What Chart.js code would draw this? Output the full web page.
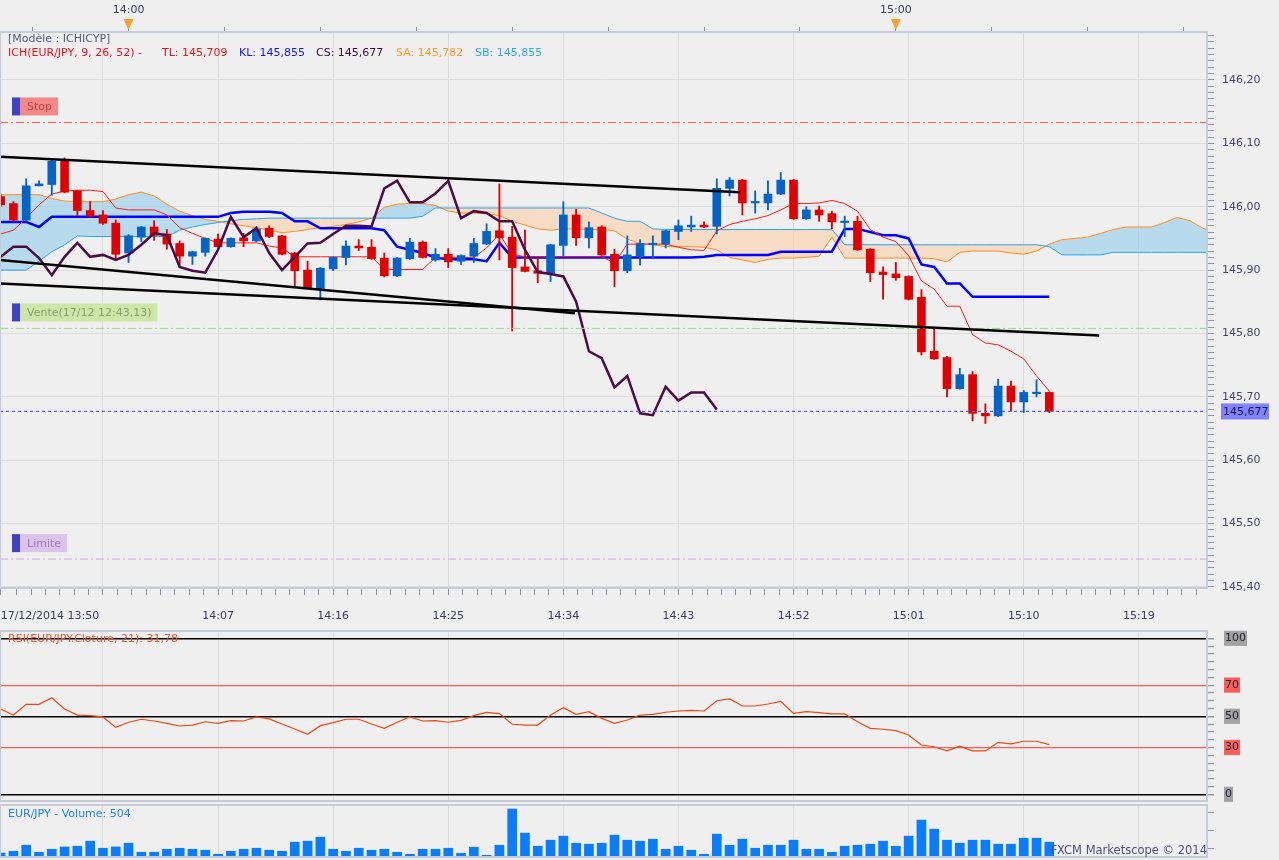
<!DOCTYPE html>
<html>
<head>
<meta charset="utf-8">
<title>EUR/JPY - Ichimoku - FXCM Marketscope</title>
<script src="https://cdn.jsdelivr.net/npm/chart.js"></script>
<style>
  body { margin: 0; background: #efefef; width: 1279px; height: 860px; overflow: hidden; font-family: 'DejaVu Sans', sans-serif; }
  canvas { position: absolute; left: 0; z-index: 0; }
  .txt { position: absolute; font-size: 11px; line-height: 13px; white-space: pre; z-index: 2; }
</style>
</head>
<body>
<canvas id="price" width="1279" height="625" style="top:0"></canvas>
<canvas id="rsi" width="1279" height="178" style="top:625px"></canvas>
<canvas id="vol" width="1279" height="57" style="top:803px"></canvas>

<div class="txt" style="left:8px;top:32px;color:#58587a">[Modèle : ICHICYP]</div>
<div class="txt" style="left:8px;top:46px;color:#e8141e">ICH(EUR/JPY, 9, 26, 52) -</div>
<div class="txt" style="left:162px;top:46px;color:#e8141e">TL: 145,709</div>
<div class="txt" style="left:239px;top:46px;color:#1414f0">KL: 145,855</div>
<div class="txt" style="left:316px;top:46px;color:#3a0c34">CS: 145,677</div>
<div class="txt" style="left:396px;top:46px;color:#ff9a30">SA: 145,782</div>
<div class="txt" style="left:475px;top:46px;color:#30a6f0">SB: 145,855</div>
<div class="txt" style="left:8px;top:632px;color:#e4562a">RSI(EUR/JPY.Cloture, 21): 31,78</div>
<div class="txt" style="left:8px;top:807px;color:#2184f0">EUR/JPY - Volume: 504</div>
<div class="txt" style="right:72px;top:844px;color:#50507a;font-size:11.5px">FXCM Marketscope © 2014</div>

<script>
// one-minute candles, EUR/JPY, 17/12/2014
const sessionDate = '17/12/2014';
const times = [
  '13:50','13:51','13:52','13:53','13:54','13:55','13:56','13:57','13:58','13:59',
  '14:00','14:01','14:02','14:03','14:04','14:05','14:06','14:07','14:08','14:09',
  '14:10','14:11','14:12','14:13','14:14','14:15','14:16','14:17','14:18','14:19',
  '14:20','14:21','14:22','14:23','14:24','14:25','14:26','14:27','14:28','14:29',
  '14:30','14:31','14:32','14:33','14:34','14:35','14:36','14:37','14:38','14:39',
  '14:40','14:41','14:42','14:43','14:44','14:45','14:46','14:47','14:48','14:49',
  '14:50','14:51','14:52','14:53','14:54','14:55','14:56','14:57','14:58','14:59',
  '15:00','15:01','15:02','15:03','15:04','15:05','15:06','15:07','15:08','15:09',
  '15:10','15:11','15:12','15:13','15:14','15:15','15:16','15:17','15:18','15:19',
  '15:20','15:21','15:22','15:23','15:24','15:25'
];

const open = [
  146.016,146.005,145.979,146.033,146.035,146.072,146.025,145.994,145.987,145.974,
  145.927,145.952,145.968,145.957,145.942,145.922,145.928,145.949,145.937,145.951,
  145.946,145.966,145.954,145.927,145.900,145.871,145.902,145.920,145.938,145.936,
  145.919,145.891,145.918,145.944,145.916,145.925,145.914,145.922,145.941,145.962,
  145.952,145.905,145.899,145.895,145.939,145.987,145.951,145.968,145.925,145.899,
  145.922,145.940,145.941,145.961,145.968,145.971,145.969,146.029,146.042,146.006,
  146.006,146.020,146.042,145.981,145.995,145.989,145.975,145.977,145.933,145.897,
  145.894,145.890,145.857,145.772,145.762,145.713,145.735,145.674,145.670,145.717,
  145.692,145.705,145.707
];
const high = [
  146.020,146.008,146.044,146.041,146.074,146.077,146.026,146.008,145.994,145.979,
  145.956,145.969,145.978,145.964,145.946,145.930,145.951,145.957,145.951,145.958,
  145.969,145.970,145.955,145.928,145.914,145.904,145.921,145.946,145.948,145.948,
  145.927,145.920,145.950,145.946,145.934,145.934,145.924,145.950,145.973,146.036,
  145.969,145.963,145.919,145.941,146.008,145.996,145.976,145.970,145.933,145.954,
  145.948,145.954,145.963,145.979,145.985,145.976,146.044,146.046,146.043,146.025,
  146.041,146.054,146.043,146.000,146.001,145.993,145.985,145.985,145.934,145.905,
  145.912,145.891,145.869,145.809,145.764,145.745,145.740,145.689,145.728,145.725,
  145.710,145.727,145.708
];
const low = [
  146.000,145.977,145.977,146.033,146.018,146.022,145.986,145.984,145.972,145.917,
  145.912,145.945,145.947,145.933,145.908,145.909,145.922,145.936,145.936,145.937,
  145.945,145.951,145.924,145.874,145.871,145.853,145.899,145.908,145.931,145.917,
  145.889,145.890,145.917,145.919,145.914,145.904,145.909,145.912,145.940,145.916,
  145.804,145.897,145.880,145.882,145.922,145.939,145.935,145.923,145.874,145.896,
  145.908,145.920,145.935,145.948,145.961,145.967,145.957,146.017,145.987,145.990,
  145.995,146.019,145.980,145.980,145.977,145.965,145.953,145.931,145.882,145.854,
  145.884,145.853,145.766,145.759,145.700,145.712,145.662,145.658,145.669,145.677,
  145.675,145.700,145.675
];
const close = [
  146.003,145.979,146.033,146.036,146.072,146.023,145.994,145.985,145.974,145.925,
  145.954,145.968,145.955,145.941,145.922,145.929,145.950,145.937,145.950,145.946,
  145.965,145.953,145.925,145.899,145.872,145.903,145.920,145.938,145.935,145.918,
  145.891,145.919,145.944,145.920,145.925,145.913,145.923,145.942,145.961,145.951,
  145.904,145.898,145.895,145.940,145.987,145.951,145.967,145.924,145.899,145.924,
  145.942,145.942,145.962,145.970,145.971,145.968,146.029,146.042,146.006,146.008,
  146.020,146.042,145.981,145.995,145.987,145.976,145.976,145.932,145.896,145.893,
  145.888,145.854,145.771,145.760,145.713,145.735,145.674,145.670,145.717,145.692,
  145.707,145.707,145.677
];

// Ichimoku lines
const tenkan = [
  145.957,145.963,145.982,146.003,146.020,146.025,146.026,146.026,146.024,145.998,
  145.995,145.995,145.995,145.987,145.967,145.958,145.950,145.943,145.943,145.943,
  145.943,145.938,145.935,145.921,145.921,145.921,145.921,145.921,145.921,145.921,
  145.901,145.901,145.901,145.901,145.920,145.920,145.920,145.920,145.935,145.957,
  145.925,145.921,145.921,145.921,145.921,145.921,145.921,145.921,145.911,145.941,
  145.941,145.941,145.941,145.936,145.932,145.931,145.962,145.972,145.977,145.981,
  145.986,145.995,146.005,146.005,146.006,146.010,146.005,145.993,145.964,145.952,
  145.945,145.923,145.883,145.870,145.843,145.843,145.798,145.785,145.782,145.772,
  145.760,145.733,145.709
];
const kijun = [
  145.976,145.976,145.976,145.968,145.984,145.984,145.984,145.984,145.984,145.984,
  145.984,145.984,145.984,145.984,145.984,145.984,145.984,145.984,145.990,145.992,
  145.992,145.992,145.990,145.977,145.977,145.966,145.966,145.966,145.966,145.966,
  145.963,145.937,145.932,145.927,145.920,145.917,145.917,145.917,145.914,145.943,
  145.920,145.920,145.920,145.920,145.920,145.920,145.920,145.920,145.920,145.920,
  145.920,145.920,145.920,145.920,145.920,145.921,145.924,145.924,145.924,145.924,
  145.924,145.929,145.929,145.929,145.929,145.929,145.965,145.965,145.960,145.955,
  145.955,145.950,145.909,145.905,145.879,145.879,145.858,145.858,145.858,145.858,
  145.858,145.858,145.858
];
const chikou = [
  145.921,145.937,145.937,145.919,145.892,145.921,145.943,145.921,145.924,145.916,
  145.924,145.940,145.958,145.955,145.905,145.899,145.896,145.932,145.984,145.952,
  145.966,145.927,145.900,145.921,145.942,145.943,145.957,145.970,145.970,145.969,
  146.029,146.041,146.007,146.007,146.021,146.041,145.982,145.993,145.990,145.977,
  145.977,145.932,145.897,145.894,145.890,145.850,145.772,145.761,145.715,145.733,
  145.674,145.671,145.716,145.694,145.707,145.707,145.680
];
const senkouA = [
  146.019,146.019,146.019,146.019,146.013,146.009,146.008,146.008,146.008,146.012,
  146.019,146.023,146.017,146.004,145.993,145.986,145.980,145.977,145.973,145.970,
  145.967,145.963,145.959,145.961,145.964,145.967,145.969,145.972,145.976,145.982,
  145.999,146.004,146.005,146.005,146.002,145.993,145.990,145.990,145.989,145.986,
  145.977,145.971,145.965,145.963,145.965,145.965,145.964,145.964,145.962,145.949,
  145.942,145.940,145.937,145.937,145.937,145.936,145.932,145.920,145.916,145.912,
  145.917,145.919,145.919,145.920,145.922,145.952,145.919,145.919,145.919,145.919,
  145.919,145.919,145.919,145.918,145.913,145.928,145.930,145.930,145.930,145.927,
  145.925,145.930,145.941,145.948,145.950,145.952,145.958,145.964,145.968,145.968,
  145.968,145.975,145.983,145.978,145.966,145.960
];
const senkouB = [
  145.900,145.900,145.900,145.914,145.929,145.940,145.954,145.953,145.953,145.953,
  145.953,145.953,145.953,145.953,145.963,145.968,145.972,145.975,145.978,145.980,
  145.981,145.982,145.982,145.982,145.982,145.982,145.982,145.982,145.982,145.982,
  145.982,145.982,145.982,145.985,145.998,145.998,145.998,145.998,145.998,145.998,
  145.998,145.998,145.998,145.998,145.998,145.998,145.998,145.990,145.982,145.977,
  145.977,145.965,145.964,145.964,145.964,145.964,145.964,145.964,145.964,145.964,
  145.964,145.964,145.964,145.964,145.964,145.964,145.940,145.940,145.940,145.940,
  145.940,145.940,145.940,145.940,145.940,145.940,145.940,145.940,145.940,145.940,
  145.940,145.940,145.937,145.924,145.924,145.924,145.924,145.928,145.928,145.928,
  145.928,145.928,145.928,145.928,145.928,145.928
];

// drawn trend lines: [time index, price] anchors
const upperTrend = [[-0.1, 146.079], [57.8, 146.023]];
const lowerTrendA = [[-0.1, 145.916], [44.9, 145.832]];
const lowerTrendB = [[-0.1, 145.879], [85.9, 145.797]];

// order levels and last price
const stopLevel = 146.133;
const venteLevel = 145.808;
const limiteLevel = 145.444;
const lastPrice = 145.677;
const lastPriceLabel = '145,677';

const rsi = [
  54.7,50.8,57.7,57.7,61.9,54.7,50.8,50.4,49.6,42.9,
  46.2,48.1,47.0,45.5,43.8,44.4,46.5,45.5,47.2,47.0,
  49.6,48.3,45.1,41.9,38.5,44.0,45.9,48.1,48.1,45.1,
  42.3,46.2,49.6,47.0,47.2,46.2,47.4,50.4,52.5,51.7,
  44.9,44.4,44.4,50.8,55.5,51.3,53.0,48.7,45.5,47.6,
  50.8,51.2,52.6,53.4,53.8,53.4,60.0,61.1,56.6,56.6,
  57.9,59.6,51.9,53.0,52.3,51.5,51.5,46.5,42.3,41.7,
  40.8,38.0,31.6,30.5,27.8,30.8,27.8,27.8,33.3,32.3,
  34.0,34.0,31.8
];
const volume = [
  137,196,401,161,264,343,367,539,298,343,
  470,161,161,264,298,264,230,93,196,264,
  298,230,196,504,539,676,264,196,298,230,
  264,161,93,264,264,298,127,333,58,401,
  1636,813,367,573,710,470,436,470,744,573,
  539,607,264,367,230,93,779,401,607,298,
  401,401,573,264,264,161,367,401,436,539,
  367,710,1259,950,573,470,573,573,436,436,
  641,641,504
];

// axis labels
const gridTimes = ['13:58','14:07','14:16','14:25','14:34','14:43','14:52','15:01','15:10','15:19'];
const topTimes = ['14:00','15:00'];
const priceLabels = ['145,40','145,50','145,60','145,70','145,80','145,90','146,00','146,10','146,20'];
const rsiLabels = ['0','30','50','70','100'];
const rsiRedLevels = [30, 70];
const rsiBlackLevels = [0, 50, 100];

Chart.defaults.font.family = "'DejaVu Sans', sans-serif";
Chart.defaults.font.size = 11;

const xMin = -0.05, xMax = 94.33;
const UP = '#0563c8', DOWN = '#e00000';
const isUp = i => close[i] >= open[i];
const pts = arr => arr.map((v, i) => ({ x: i, y: v }));
const near = (a, b) => Math.abs(a - b) < 1e-6;
const timeAt = v => (near(v, Math.round(v)) ? times[Math.round(v)] : null);
const isGrid = v => gridTimes.includes(timeAt(v));
const hLine = lv => [{ x: xMin, y: lv }, { x: xMax, y: lv }];
const seg = a => a.map(p => ({ x: p[0], y: p[1] }));

const bottomTicks = [0];
for (let v = 0.125 + 1.125; v <= xMax; v += 1.125) bottomTicks.push(v);
const topTicks = [];
for (let v = 2.5; v <= xMax; v += 7.5) topTicks.push(v);
const gridTicks = gridTimes.map(t => times.indexOf(t));

function fixBox(size, horiz) {
  return s => {
    if (horiz) s.height = size; else s.width = size;
    s.paddingLeft = s.paddingRight = s.paddingTop = s.paddingBottom = 0;
  };
}

function frame(chart) {
  const { ctx, chartArea: a } = chart;
  ctx.save();
  ctx.strokeStyle = '#c6ccd7';
  ctx.lineWidth = 2;
  ctx.strokeRect(a.left, a.top, a.right - a.left, a.bottom - a.top);
  ctx.restore();
}

const levelTags = [
  { level: stopLevel, text: 'Stop', fill: '#f38888', color: '#c24545' },
  { level: venteLevel, text: 'Vente(17/12 12:43,13)', fill: '#cde7a9', color: '#8b9d70' },
  { level: limiteLevel, text: 'Limite', fill: '#dcc3ee', color: '#a277c2' }
];

const priceDecor = {
  id: 'priceDecor',
  afterDraw(chart) {
    const { ctx, chartArea: a, scales } = chart;
    frame(chart);
    ctx.save();
    ctx.font = "11px 'DejaVu Sans'";
    ctx.textBaseline = 'middle';
    levelTags.forEach(t => {
      const y = scales.y.getPixelForValue(t.level) - 16;
      const x = a.left + 12;
      const w = ctx.measureText(t.text).width;
      ctx.fillStyle = t.fill;
      ctx.fillRect(x + 8, y - 9, w + 13, 18);
      ctx.fillStyle = '#4040c6';
      ctx.fillRect(x, y - 9, 8, 18);
      ctx.fillStyle = t.color;
      ctx.textAlign = 'left';
      ctx.fillText(t.text, x + 15, y + 1);
    });
    // last price tag on the axis
    const py = scales.y.getPixelForValue(lastPrice);
    ctx.fillStyle = '#8282ff';
    ctx.fillRect(a.right + 14, py - 8, 48, 16);
    ctx.fillStyle = '#1a1a40';
    ctx.fillText(lastPriceLabel, a.right + 16, py + 1);
    // hour markers on the top axis
    ctx.fillStyle = '#f5a12c';
    topTimes.forEach(t => {
      const x = scales.x2.getPixelForValue(times.indexOf(t));
      ctx.beginPath();
      ctx.moveTo(x - 5, 19);
      ctx.lineTo(x + 5, 19);
      ctx.lineTo(x, 30);
      ctx.closePath();
      ctx.fill();
    });
    ctx.restore();
  }
};

const lineDs = (data, color, width, order, extra) => Object.assign({
  type: 'line', data, borderColor: color, borderWidth: width, pointRadius: 0,
  tension: 0, fill: false, order
}, extra || {});

const priceDatasets = [
  lineDs(seg(upperTrend), '#000000', 2.5, 1),
  lineDs(seg(lowerTrendA), '#000000', 2.5, 1),
  lineDs(seg(lowerTrendB), '#000000', 2.5, 1),
  lineDs(hLine(stopLevel), '#ff5a5a', 1, 2, { borderDash: [8, 3, 2, 3] }),
  lineDs(hLine(venteLevel), '#a2d282', 1, 2, { borderDash: [8, 3, 2, 3] }),
  lineDs(hLine(limiteLevel), '#cbaee2', 1, 2, { borderDash: [8, 3, 2, 3] }),
  lineDs(hLine(lastPrice), '#5c5cff', 1.2, 2, { borderDash: [3, 3] }),
  lineDs(pts(chikou), '#4a0c42', 2.5, 3),
  {
    type: 'bar', order: 4, grouped: false, barThickness: 8, maxBarThickness: 8, minBarLength: 1.5,
    data: open.map((o, i) => ({ x: i, y: [o, close[i]] })),
    backgroundColor: c => (isUp(c.dataIndex) ? UP : DOWN), borderWidth: 0
  },
  {
    type: 'bar', order: 5, grouped: false, barThickness: 1.2, maxBarThickness: 1.2,
    data: low.map((l, i) => ({ x: i, y: [l, high[i]] })),
    backgroundColor: c => (isUp(c.dataIndex) ? UP : DOWN), borderWidth: 0
  },
  lineDs(pts(tenkan), '#ff1a1a', 1, 6),
  lineDs(pts(kijun), '#0000ff', 2.5, 7),
  lineDs(pts(senkouB), '#2ba3ea', 1, 8)
];
const sbIndex = priceDatasets.length - 1;
priceDatasets.push(lineDs(pts(senkouA), '#ff8c1e', 1, 9, {
  fill: { target: sbIndex, above: 'rgba(150,205,235,0.62)', below: 'rgba(250,205,168,0.6)' }
}));

const baseOpts = {
  responsive: false, animation: false, events: [],
  plugins: { legend: { display: false }, tooltip: { enabled: false } }
};

new Chart(document.getElementById('price'), {
  type: 'line',
  data: { datasets: priceDatasets },
  options: Object.assign({}, baseOpts, {
    layout: { padding: 0 },
    scales: {
      x: {
        type: 'linear', position: 'bottom', min: xMin, max: xMax, offset: false,
        afterBuildTicks: s => { s.ticks = bottomTicks.map(v => ({ value: v })); },
        afterFit: fixBox(37, true),
        border: { display: true, color: '#b3bbca', width: 1 },
        grid: {
          offset: false, tickLength: 7, tickColor: '#8e96aa',
          color: c => (c.tick && isGrid(c.tick.value) ? '#dcdcdc' : 'rgba(0,0,0,0)')
        },
        ticks: {
          autoSkip: false, maxRotation: 0, align: 'inner', padding: 15, color: '#3c3c5c',
          callback: v => {
            if (near(v, 0)) return sessionDate + ' ' + times[0];
            const t = timeAt(v);
            return t && gridTimes.indexOf(t) > 0 ? t : '';
          }
        }
      },
      x2: {
        type: 'linear', position: 'top', min: xMin, max: xMax, offset: false,
        afterBuildTicks: s => { s.ticks = topTicks.map(v => ({ value: v })); },
        afterFit: fixBox(32, true),
        border: { display: true, color: '#b3bbca' },
        grid: { drawOnChartArea: false, tickLength: 5, color: '#8e96aa' },
        ticks: {
          autoSkip: false, maxRotation: 0, padding: 10, color: '#3c3c5c',
          callback: v => { const t = timeAt(v); return topTimes.includes(t) ? t : ''; }
        }
      },
      y: {
        type: 'linear', position: 'right', min: 145.3984, max: 146.2757,
        afterBuildTicks: s => {
          const tk = [];
          for (let k = 0; k <= 87; k++) tk.push({ value: Math.round((145.40 + k * 0.01) * 100) / 100 });
          s.ticks = tk;
        },
        afterFit: fixBox(72, false),
        border: { display: true, color: '#b3bbca' },
        grid: {
          tickLength: 7, tickColor: '#8e96aa',
          color: c => (c.tick && priceLabels.includes(c.tick.value.toFixed(2).replace('.', ',')) ? '#dcdcdc' : 'rgba(0,0,0,0)')
        },
        ticks: {
          autoSkip: false, padding: 8, color: '#454568',
          callback: v => { const l = v.toFixed(2).replace('.', ','); return priceLabels.includes(l) ? l : ''; }
        }
      }
    }
  }),
  plugins: [priceDecor]
});

const xGridOnly = h => ({
  type: 'linear', position: 'bottom', min: xMin, max: xMax, offset: false,
  afterBuildTicks: s => { s.ticks = gridTicks.map(v => ({ value: v })); },
  afterFit: fixBox(h, true),
  border: { display: false },
  grid: { offset: false, drawTicks: false, color: '#dcdcdc' },
  ticks: { display: false }
});

new Chart(document.getElementById('rsi'), {
  type: 'line',
  data: { datasets: [lineDs(pts(rsi), '#e84a12', 1.2, 1)] },
  options: Object.assign({}, baseOpts, {
    layout: { padding: { top: 6 } },
    scales: {
      x: xGridOnly(2),
      y: {
        type: 'linear', position: 'right', min: -4.29, max: 104.68,
        afterBuildTicks: s => {
          const tk = [];
          for (let v = 0; v <= 100; v += 5) tk.push({ value: v });
          s.ticks = tk;
        },
        afterFit: fixBox(72, false),
        border: { display: true, color: '#b3bbca' },
        grid: {
          tickLength: 7, tickColor: '#8e96aa',
          color: c => {
            const v = c.tick ? c.tick.value : -1;
            if (rsiRedLevels.includes(v)) return '#ff5858';
            if (rsiBlackLevels.includes(v)) return '#000000';
            return 'rgba(0,0,0,0)';
          },
          lineWidth: c => (c.tick && rsiBlackLevels.includes(c.tick.value) ? 1.5 : 1.2)
        },
        ticks: {
          autoSkip: false, padding: 11, color: '#222233',
          callback: v => (rsiLabels.includes(String(v)) ? String(v) : ''),
          showLabelBackdrop: c => rsiLabels.includes(String(c.tick.value)),
          backdropColor: c => (rsiRedLevels.includes(c.tick.value) ? '#ff5c5c' : '#a2a2a2'),
          backdropPadding: { top: 1, bottom: 1, left: 1, right: 1 }
        }
      }
    }
  }),
  plugins: [{ id: 'rsiFrame', afterDraw: frame }]
});

new Chart(document.getElementById('vol'), {
  type: 'bar',
  data: {
    datasets: [{
      data: pts(volume), backgroundColor: '#0a7dff', borderWidth: 0,
      barThickness: 9, maxBarThickness: 9
    }]
  },
  options: Object.assign({}, baseOpts, {
    layout: { padding: { top: 2 } },
    scales: {
      x: xGridOnly(3),
      y: {
        type: 'linear', position: 'right', min: 0, max: 1772,
        afterBuildTicks: s => {
          const tk = [];
          for (let v = 300; v < 1772; v += 300) tk.push({ value: v });
          s.ticks = tk;
        },
        afterFit: fixBox(72, false),
        border: { display: true, color: '#b3bbca' },
        grid: { drawOnChartArea: false, tickLength: 7, color: '#8e96aa' },
        ticks: { display: true, callback: () => '' }
      }
    }
  }),
  plugins: [{ id: 'volFrame', afterDraw: frame }]
});
</script>
</body>
</html>
